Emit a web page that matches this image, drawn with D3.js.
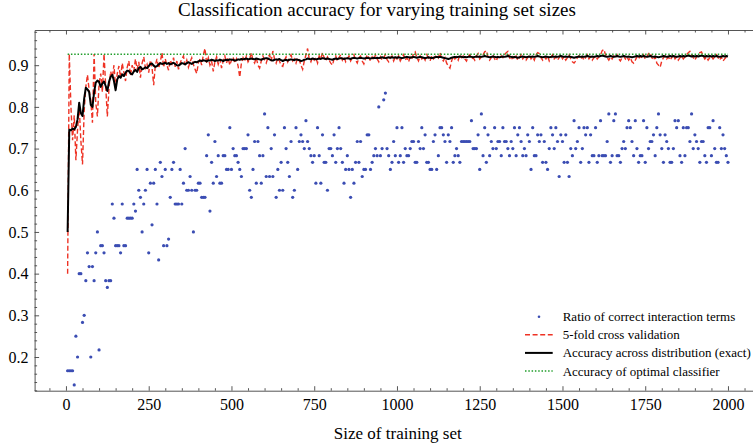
<!DOCTYPE html>
<html>
<head>
<meta charset="utf-8">
<title>Classification accuracy for varying training set sizes</title>
<script src="https://cdn.jsdelivr.net/npm/d3@7"></script>
<style>
  html, body { margin: 0; padding: 0; background: #fff; }
  svg { display: block; font-family: 'Liberation Serif', 'Times New Roman', serif; }
</style>
</head>
<body>
<svg id="chart" width="753" height="448"></svg>
<script>
'use strict';

/* global d3 */

// training set sizes (x values), one sample every 5
var trainingSizes = d3.range(5, 2001, 5);

// ratio of correct interaction terms (blue dots)
var termRatio = [
  0.167, 0.167, 0.167, 0.167, 0.133, 0.25, 0.2, 0.4, 0.4, 0.283, 0.3, 0.383, 0.45, 0.417, 0.2, 0.417, 0.383, 0.45, 0.5, 0.217,
  0.467, 0.467, 0.45, 0.383, 0.367, 0.383, 0.383, 0.567, 0.533, 0.467, 0.467, 0.467, 0.45, 0.567, 0.467, 0.467, 0.533, 0.533, 0.533, 0.533,
  0.567, 0.55, 0.65, 0.6, 0.583, 0.5, 0.567, 0.6, 0.65, 0.45, 0.617, 0.517, 0.617, 0.65, 0.567, 0.433, 0.667, 0.633, 0.467, 0.65,
  0.467, 0.483, 0.583, 0.65, 0.667, 0.567, 0.567, 0.567, 0.65, 0.567, 0.617, 0.7, 0.6, 0.6, 0.633, 0.6, 0.5, 0.6, 0.6, 0.617,
  0.617, 0.583, 0.583, 0.583, 0.683, 0.733, 0.55, 0.667, 0.617, 0.717, 0.633, 0.683, 0.617, 0.617, 0.683, 0.683, 0.65, 0.65, 0.75, 0.65,
  0.7, 0.683, 0.683, 0.667, 0.65, 0.633, 0.7, 0.7, 0.7, 0.733, 0.6, 0.583, 0.65, 0.717, 0.617, 0.717, 0.683, 0.617, 0.683, 0.783,
  0.633, 0.75, 0.633, 0.7, 0.633, 0.733, 0.583, 0.65, 0.6, 0.667, 0.6, 0.75, 0.7, 0.667, 0.633, 0.717, 0.583, 0.6, 0.75, 0.65,
  0.717, 0.733, 0.717, 0.7, 0.767, 0.717, 0.7, 0.683, 0.667, 0.683, 0.617, 0.75, 0.683, 0.617, 0.733, 0.667, 0.667, 0.6, 0.7, 0.7,
  0.683, 0.733, 0.667, 0.7, 0.75, 0.7, 0.667, 0.617, 0.65, 0.683, 0.65, 0.583, 0.65, 0.617, 0.667, 0.717, 0.667, 0.717, 0.633, 0.65,
  0.65, 0.733, 0.733, 0.65, 0.667, 0.683, 0.7, 0.683, 0.8, 0.683, 0.7, 0.817, 0.833, 0.7, 0.683, 0.65, 0.667, 0.717, 0.683, 0.75,
  0.667, 0.683, 0.75, 0.667, 0.7, 0.683, 0.683, 0.7, 0.717, 0.717, 0.667, 0.667, 0.717, 0.7, 0.75, 0.7, 0.733, 0.667, 0.667, 0.65,
  0.65, 0.717, 0.733, 0.65, 0.683, 0.75, 0.75, 0.733, 0.717, 0.667, 0.733, 0.717, 0.75, 0.667, 0.683, 0.7, 0.683, 0.667, 0.717, 0.717,
  0.717, 0.717, 0.717, 0.717, 0.767, 0.7, 0.7, 0.7, 0.733, 0.65, 0.783, 0.683, 0.75, 0.667, 0.733, 0.683, 0.717, 0.7, 0.75, 0.7,
  0.717, 0.717, 0.683, 0.75, 0.717, 0.717, 0.7, 0.683, 0.717, 0.7, 0.75, 0.683, 0.733, 0.75, 0.717, 0.683, 0.7, 0.683, 0.733, 0.717,
  0.65, 0.75, 0.683, 0.683, 0.733, 0.717, 0.733, 0.667, 0.717, 0.667, 0.65, 0.7, 0.75, 0.733, 0.7, 0.75, 0.717, 0.633, 0.733, 0.717,
  0.667, 0.733, 0.667, 0.633, 0.7, 0.683, 0.767, 0.7, 0.717, 0.75, 0.667, 0.7, 0.75, 0.733, 0.75, 0.667, 0.733, 0.683, 0.683, 0.75,
  0.667, 0.683, 0.767, 0.683, 0.683, 0.683, 0.717, 0.783, 0.667, 0.683, 0.767, 0.783, 0.683, 0.683, 0.667, 0.7, 0.717, 0.7, 0.75, 0.767,
  0.75, 0.717, 0.683, 0.767, 0.7, 0.667, 0.683, 0.683, 0.767, 0.667, 0.75, 0.7, 0.717, 0.717, 0.733, 0.683, 0.75, 0.783, 0.733, 0.7,
  0.667, 0.733, 0.717, 0.7, 0.667, 0.667, 0.7, 0.767, 0.75, 0.767, 0.683, 0.667, 0.75, 0.683, 0.75, 0.75, 0.717, 0.783, 0.7, 0.733,
  0.717, 0.7, 0.667, 0.717, 0.717, 0.683, 0.667, 0.75, 0.75, 0.683, 0.767, 0.7, 0.667, 0.667, 0.75, 0.7, 0.733, 0.7, 0.683, 0.667
];

// 5-fold cross validation accuracy (red dashed)
var cvAccuracy = [
  0.400, 0.927, 0.800, 0.720, 0.780, 0.672, 0.745, 0.800, 0.720, 0.662, 0.790, 0.848, 0.877, 0.840, 0.815, 0.762, 0.927, 0.810, 0.777, 0.855,
  0.880, 0.835, 0.927, 0.850, 0.777, 0.845, 0.885, 0.870, 0.900, 0.845, 0.880, 0.898, 0.870, 0.905, 0.882, 0.862, 0.895, 0.910, 0.875, 0.900,
  0.886, 0.915, 0.890, 0.908, 0.870, 0.905, 0.920, 0.893, 0.902, 0.882, 0.912, 0.895, 0.852, 0.900, 0.915, 0.893, 0.908, 0.930, 0.895, 0.915,
  0.900, 0.888, 0.912, 0.903, 0.918, 0.896, 0.910, 0.890, 0.905, 0.915, 0.922, 0.900, 0.912, 0.895, 0.908, 0.918, 0.902, 0.890, 0.880, 0.905,
  0.915, 0.900, 0.925, 0.940, 0.905, 0.918, 0.900, 0.910, 0.885, 0.908, 0.920, 0.902, 0.915, 0.893, 0.910, 0.922, 0.905, 0.918, 0.900, 0.912,
  0.920, 0.905, 0.915, 0.898, 0.871, 0.905, 0.918, 0.910, 0.922, 0.908, 0.915, 0.930, 0.912, 0.905, 0.918, 0.900, 0.893, 0.910, 0.922, 0.912,
  0.905, 0.918, 0.925, 0.910, 0.934, 0.915, 0.905, 0.918, 0.910, 0.900, 0.897, 0.912, 0.920, 0.908, 0.918, 0.925, 0.910, 0.915, 0.905, 0.918,
  0.912, 0.900, 0.890, 0.910, 0.925, 0.940, 0.915, 0.908, 0.920, 0.912, 0.918, 0.905, 0.922, 0.915, 0.930, 0.918, 0.910, 0.920, 0.912, 0.905,
  0.900, 0.915, 0.922, 0.910, 0.918, 0.925, 0.912, 0.920, 0.908, 0.915, 0.922, 0.910, 0.918, 0.925, 0.912, 0.905, 0.918, 0.922, 0.910, 0.903,
  0.915, 0.925, 0.918, 0.910, 0.920, 0.912, 0.925, 0.915, 0.908, 0.920, 0.912, 0.918, 0.925, 0.913, 0.908, 0.918, 0.922, 0.910, 0.920, 0.915,
  0.922, 0.910, 0.918, 0.925, 0.912, 0.918, 0.908, 0.920, 0.915, 0.928, 0.932, 0.918, 0.910, 0.922, 0.915, 0.920, 0.912, 0.925, 0.918, 0.910,
  0.922, 0.915, 0.920, 0.925, 0.918, 0.930, 0.915, 0.910, 0.918, 0.905, 0.898, 0.893, 0.910, 0.922, 0.915, 0.920, 0.912, 0.925, 0.918, 0.922,
  0.915, 0.910, 0.920, 0.925, 0.915, 0.918, 0.912, 0.922, 0.928, 0.915, 0.920, 0.925, 0.932, 0.935, 0.920, 0.912, 0.918, 0.925, 0.915, 0.910,
  0.920, 0.915, 0.922, 0.918, 0.925, 0.930, 0.933, 0.918, 0.912, 0.920, 0.915, 0.922, 0.912, 0.918, 0.925, 0.915, 0.920, 0.912, 0.918, 0.925,
  0.915, 0.920, 0.912, 0.925, 0.930, 0.928, 0.918, 0.912, 0.920, 0.915, 0.922, 0.910, 0.918, 0.925, 0.915, 0.920, 0.912, 0.918, 0.925, 0.915,
  0.920, 0.912, 0.918, 0.925, 0.915, 0.908, 0.905, 0.910, 0.918, 0.922, 0.915, 0.920, 0.912, 0.918, 0.925, 0.915, 0.920, 0.912, 0.918, 0.922,
  0.915, 0.920, 0.925, 0.935, 0.938, 0.925, 0.918, 0.912, 0.920, 0.915, 0.922, 0.918, 0.925, 0.915, 0.910, 0.918, 0.922, 0.915, 0.920, 0.912,
  0.918, 0.908, 0.905, 0.912, 0.920, 0.915, 0.922, 0.918, 0.925, 0.915, 0.920, 0.928, 0.930, 0.918, 0.912, 0.920, 0.905, 0.900, 0.895, 0.910,
  0.918, 0.922, 0.915, 0.920, 0.912, 0.918, 0.925, 0.915, 0.920, 0.912, 0.918, 0.922, 0.915, 0.920, 0.925, 0.930, 0.933, 0.925, 0.918, 0.912,
  0.920, 0.925, 0.930, 0.932, 0.922, 0.915, 0.920, 0.912, 0.918, 0.922, 0.915, 0.920, 0.925, 0.918, 0.912, 0.920, 0.910, 0.915, 0.920, 0.918
];

// accuracy across the distribution, exact (black)
var exactAccuracy = [
  0.500, 0.745, 0.744, 0.748, 0.746, 0.752, 0.770, 0.810, 0.785, 0.778, 0.820, 0.846, 0.842, 0.836, 0.805, 0.800, 0.835, 0.858, 0.863, 0.860,
  0.848, 0.856, 0.861, 0.850, 0.838, 0.860, 0.872, 0.877, 0.862, 0.840, 0.866, 0.874, 0.870, 0.878, 0.874, 0.882, 0.887, 0.886, 0.880, 0.878,
  0.885, 0.889, 0.884, 0.893, 0.896, 0.890, 0.892, 0.895, 0.893, 0.898, 0.903, 0.904, 0.899, 0.896, 0.898, 0.902, 0.905, 0.903, 0.904, 0.906,
  0.903, 0.905, 0.902, 0.904, 0.906, 0.903, 0.900, 0.899, 0.902, 0.905, 0.904, 0.902, 0.905, 0.907, 0.905, 0.903, 0.906, 0.908, 0.907, 0.909,
  0.911, 0.910, 0.912, 0.911, 0.909, 0.912, 0.911, 0.913, 0.912, 0.910, 0.912, 0.911, 0.913, 0.912, 0.910, 0.912, 0.913, 0.912, 0.914, 0.913,
  0.913, 0.911, 0.912, 0.914, 0.913, 0.915, 0.914, 0.915, 0.916, 0.914, 0.915, 0.916, 0.915, 0.914, 0.916, 0.915, 0.914, 0.913, 0.915, 0.916,
  0.917, 0.916, 0.914, 0.912, 0.911, 0.913, 0.914, 0.913, 0.915, 0.912, 0.910, 0.912, 0.913, 0.911, 0.913, 0.914, 0.913, 0.912, 0.914, 0.913,
  0.912, 0.910, 0.911, 0.913, 0.914, 0.916, 0.915, 0.914, 0.916, 0.915, 0.914, 0.915, 0.916, 0.915, 0.917, 0.916, 0.915, 0.916, 0.915, 0.914,
  0.913, 0.915, 0.916, 0.915, 0.916, 0.917, 0.916, 0.915, 0.916, 0.917, 0.916, 0.915, 0.917, 0.918, 0.917, 0.916, 0.917, 0.918, 0.917, 0.916,
  0.917, 0.918, 0.917, 0.916, 0.917, 0.918, 0.917, 0.918, 0.917, 0.918, 0.919, 0.918, 0.917, 0.918, 0.919, 0.918, 0.919, 0.918, 0.919, 0.918,
  0.919, 0.918, 0.917, 0.918, 0.919, 0.920, 0.919, 0.918, 0.919, 0.920, 0.919, 0.918, 0.919, 0.920, 0.919, 0.918, 0.917, 0.918, 0.919, 0.918,
  0.917, 0.918, 0.919, 0.920, 0.919, 0.920, 0.919, 0.918, 0.917, 0.916, 0.915, 0.916, 0.918, 0.919, 0.920, 0.919, 0.920, 0.921, 0.920, 0.919,
  0.920, 0.919, 0.920, 0.921, 0.920, 0.919, 0.920, 0.921, 0.920, 0.921, 0.920, 0.921, 0.922, 0.921, 0.920, 0.919, 0.920, 0.921, 0.920, 0.919,
  0.920, 0.919, 0.920, 0.921, 0.920, 0.921, 0.922, 0.921, 0.920, 0.919, 0.920, 0.919, 0.918, 0.919, 0.920, 0.921, 0.920, 0.919, 0.920, 0.921,
  0.920, 0.921, 0.920, 0.921, 0.922, 0.921, 0.920, 0.919, 0.920, 0.921, 0.920, 0.919, 0.920, 0.921, 0.920, 0.921, 0.920, 0.921, 0.922, 0.921,
  0.920, 0.921, 0.920, 0.921, 0.920, 0.919, 0.918, 0.919, 0.920, 0.921, 0.920, 0.921, 0.920, 0.921, 0.922, 0.921, 0.920, 0.921, 0.920, 0.921,
  0.922, 0.921, 0.922, 0.923, 0.922, 0.921, 0.920, 0.921, 0.922, 0.921, 0.920, 0.921, 0.922, 0.921, 0.920, 0.921, 0.922, 0.921, 0.920, 0.921,
  0.920, 0.919, 0.920, 0.921, 0.922, 0.921, 0.922, 0.921, 0.922, 0.921, 0.920, 0.921, 0.922, 0.921, 0.920, 0.921, 0.920, 0.919, 0.920, 0.921,
  0.922, 0.921, 0.920, 0.921, 0.922, 0.921, 0.922, 0.921, 0.920, 0.921, 0.922, 0.921, 0.922, 0.921, 0.922, 0.923, 0.922, 0.921, 0.922, 0.921,
  0.922, 0.921, 0.922, 0.923, 0.922, 0.921, 0.922, 0.921, 0.922, 0.921, 0.922, 0.921, 0.922, 0.921, 0.920, 0.921, 0.922, 0.921, 0.922, 0.921
];

// accuracy of the optimal classifier (green dotted, constant)
var optimalAccuracy = 0.9265;

// ticks and labels
var xTicks = [0, 250, 500, 750, 1000, 1250, 1500, 1750, 2000];
var yTicks = [0.2, 0.3, 0.4, 0.5, 0.6, 0.7, 0.8, 0.9];
var legendLabels = [
  'Ratio of correct interaction terms',
  '5-fold cross validation',
  'Accuracy across distribution (exact)',
  'Accuracy of optimal classifier'
];
var chartTitle = 'Classification accuracy for varying training set sizes';
var xAxisLabel = 'Size of training set';


/*
 * layout
 */

var fontFamily = "'Liberation Serif', 'Times New Roman', serif";
var colors = { dots: '#3b4db3', cv: '#ee3224', exact: '#000', optimal: '#1f9d2a' };
var plot = { left: 34.6, right: 761, top: 30, bottom: 390.7 };

var svg = d3.select('#chart');

var x = d3.scaleLinear().domain([-94.75, 2099.75]).range([plot.left, plot.right]);
var y = d3.scaleLinear().domain([0.1192, 0.9844]).range([plot.bottom, plot.top]);

var xMinor = d3.range(-50, 2101, 50).filter(function(d) { return d % 250 !== 0; });
var yMinor = d3.range(6, 50).filter(function(k) { return k % 5 !== 0; })
  .map(function(k) { return k / 50; });


/*
 * axes (ticks point inward on all sides)
 */

function styleAxis(g) {
  g.attr('font-family', fontFamily).attr('font-size', 16);
  g.selectAll('.domain').attr('stroke', '#555').attr('stroke-width', 1);
  g.selectAll('.tick line').attr('stroke', '#444').attr('stroke-width', 0.9);
  g.selectAll('.tick text').attr('fill', '#000');
}

function minor(axis, values) {
  return axis.tickValues(values).tickSize(-2.5).tickFormat('');
}

var gx = svg.append('g').attr('transform', 'translate(0,' + plot.bottom + ')');
gx.call(d3.axisBottom(x).tickValues(xTicks).tickSizeInner(-4.5).tickSizeOuter(0).tickPadding(8)
  .tickFormat(d3.format('d')));
gx.append('g').call(minor(d3.axisBottom(x), xMinor)).select('.domain').remove();
styleAxis(gx);

var gxTop = svg.append('g').attr('transform', 'translate(0,' + plot.top + ')');
gxTop.call(d3.axisTop(x).tickValues(xTicks).tickSizeInner(-4.5).tickSizeOuter(0).tickFormat(''));
gxTop.append('g').call(minor(d3.axisTop(x), xMinor)).select('.domain').remove();
styleAxis(gxTop);

var gy = svg.append('g').attr('transform', 'translate(' + plot.left + ',0)');
gy.call(d3.axisLeft(y).tickValues(yTicks).tickSizeInner(-4.5).tickSizeOuter(0).tickPadding(6)
  .tickFormat(d3.format('.1f')));
gy.append('g').call(minor(d3.axisLeft(y), yMinor)).select('.domain').remove();
styleAxis(gy);

// right spine sits just past the picture edge, like the original crop
var gyRight = svg.append('g').attr('transform', 'translate(' + plot.right + ',0)');
gyRight.call(d3.axisRight(y).tickValues(yTicks).tickSizeInner(-4.5).tickSizeOuter(0).tickFormat(''));
styleAxis(gyRight);


/*
 * marks
 */

svg.append('clipPath').attr('id', 'plot-clip')
  .append('rect')
  .attr('x', plot.left).attr('y', plot.top)
  .attr('width', plot.right - plot.left).attr('height', plot.bottom - plot.top);

var marks = svg.append('g').attr('clip-path', 'url(#plot-clip)');

marks.selectAll('circle.ratio')
  .data(termRatio)
  .enter().append('circle')
  .attr('class', 'ratio')
  .attr('cx', function(d, i) { return x(trainingSizes[i]); })
  .attr('cy', function(d) { return y(d); })
  .attr('r', 1.6)
  .attr('fill', colors.dots);

var line = d3.line()
  .x(function(d, i) { return x(trainingSizes[i]); })
  .y(function(d) { return y(d); });

marks.append('path')
  .attr('d', line(cvAccuracy))
  .attr('fill', 'none')
  .attr('stroke', colors.cv)
  .attr('stroke-width', 1.4)
  .attr('stroke-dasharray', '5,2.6');

marks.append('path')
  .attr('d', line(exactAccuracy))
  .attr('fill', 'none')
  .attr('stroke', colors.exact)
  .attr('stroke-width', 2)
  .attr('stroke-linejoin', 'round');

marks.append('line')
  .attr('x1', x(trainingSizes[0]))
  .attr('x2', x(trainingSizes[trainingSizes.length - 1]))
  .attr('y1', y(optimalAccuracy))
  .attr('y2', y(optimalAccuracy))
  .attr('stroke', colors.optimal)
  .attr('stroke-width', 1.5)
  .attr('stroke-dasharray', '1.5,1.8');


/*
 * legend
 */

var legend = svg.append('g')
  .attr('transform', 'translate(525,316.7)')
  .attr('font-family', fontFamily);
var rowGap = 18.1;

legendLabels.forEach(function(label, i) {
  var row = legend.append('g').attr('transform', 'translate(0,' + (i * rowGap) + ')');

  if (i === 0) {
    row.append('circle').attr('cx', 14).attr('cy', 0).attr('r', 1.3).attr('fill', colors.dots);
  } else {
    var handle = row.append('line')
      .attr('x1', 0).attr('x2', 27.7).attr('y1', 0).attr('y2', 0);
    if (i === 1) {
      handle.attr('stroke', colors.cv).attr('stroke-width', 1.4).attr('stroke-dasharray', '5,2.6');
    } else if (i === 2) {
      handle.attr('stroke', colors.exact).attr('stroke-width', 2);
    } else {
      handle.attr('stroke', colors.optimal).attr('stroke-width', 1.5).attr('stroke-dasharray', '1.5,1.8');
    }
  }

  row.append('text')
    .attr('x', 37.7)
    .attr('y', 4.5)
    .attr('font-size', 13)
    .attr('fill', '#000')
    .text(label);
});


/*
 * titles
 */

svg.append('text')
  .attr('x', 377)
  .attr('y', 16)
  .attr('text-anchor', 'middle')
  .attr('font-family', fontFamily)
  .attr('font-size', 19)
  .attr('fill', '#000')
  .text(chartTitle);

svg.append('text')
  .attr('x', (plot.left + plot.right) / 2)
  .attr('y', 438.5)
  .attr('text-anchor', 'middle')
  .attr('font-family', fontFamily)
  .attr('font-size', 17)
  .attr('fill', '#000')
  .text(xAxisLabel);
</script>
</body>
</html>
